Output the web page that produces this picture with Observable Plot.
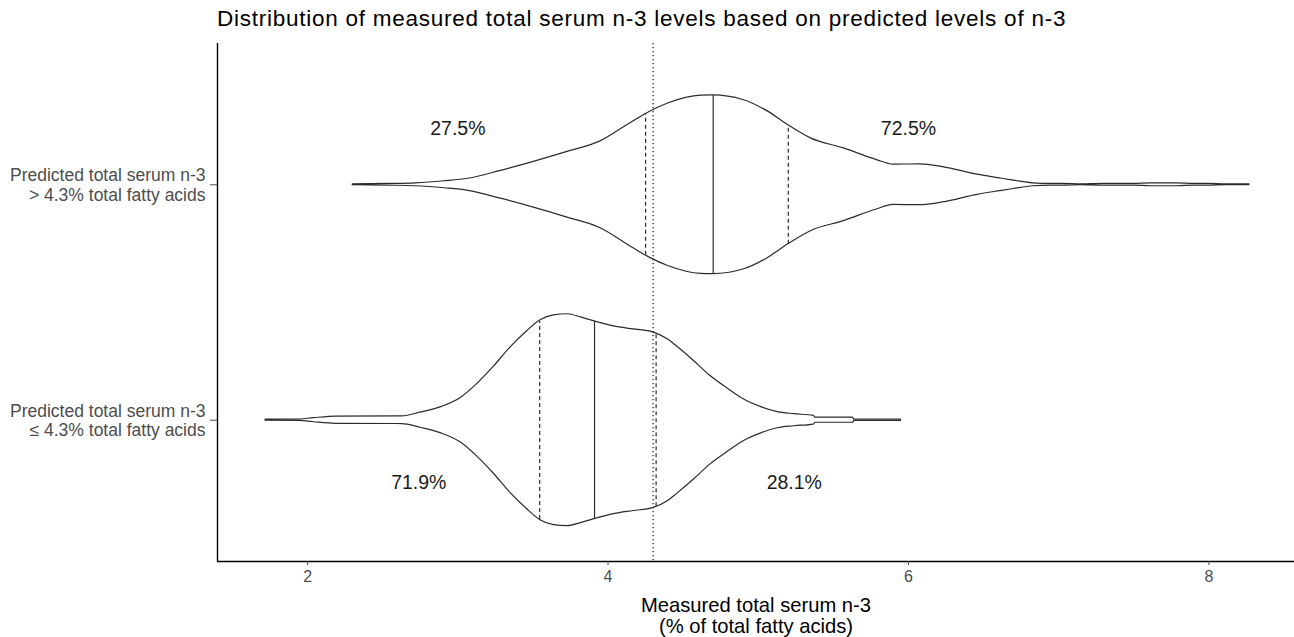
<!DOCTYPE html>
<html><head><meta charset="utf-8">
<script src="https://cdn.jsdelivr.net/npm/d3@7"></script>
<script src="https://cdn.jsdelivr.net/npm/@observablehq/plot@0.6"></script>
<style>
body{margin:0;background:#fff;font-family:"Liberation Sans",Arial,sans-serif;}
#title{position:absolute;left:217px;top:0;height:38px;line-height:38px;font-size:22.5px;letter-spacing:0.75px;color:#000;white-space:nowrap;}
#chart{position:absolute;left:0;top:40px;}
</style></head><body>
<div id="title">Distribution of measured total serum n-3 levels based on predicted levels of n-3</div>
<div id="chart"></div>
<script>
// ---- data ----
const groupNames = ["Predicted total serum n-3\n> 4.3% total fatty acids", "Predicted total serum n-3\n≤ 4.3% total fatty acids"];
const xTicks = [2, 4, 6, 8];
const threshold = 4.3;

// density outline (relative) of the "> 4.3%" group
const highX = [2.30,2.54,2.72,2.91,3.07,3.28,3.50,3.73,3.95,4.17,4.28,4.40,4.62,4.70,4.90,5.06,5.20,5.35,5.57,5.79,5.90,6.08,6.23,6.46,6.61,6.70,6.83,6.95,7.03,7.15,7.30,7.50,7.61,7.79,7.90,8.00,8.11,8.27];
const highDensity = [0.003,0.008,0.014,0.033,0.057,0.129,0.214,0.310,0.410,0.600,0.690,0.767,0.841,0.843,0.800,0.695,0.562,0.438,0.343,0.233,0.190,0.193,0.167,0.095,0.060,0.040,0.014,0.008,0.008,0.003,0.008,0.008,0.014,0.014,0.008,0.008,0.003,0.003];
// density outline (relative) of the "≤ 4.3%" group
const lowX = [1.72,1.95,2.04,2.19,2.63,2.75,2.89,3.02,3.13,3.24,3.35,3.46,3.55,3.64,3.73,3.82,3.91,4.04,4.17,4.30,4.40,4.46,4.57,4.68,4.80,4.90,5.02,5.13,5.24,5.37,5.38,5.63,5.64,5.95];
const lowDensity = [0.005,0.007,0.019,0.034,0.036,0.071,0.124,0.210,0.343,0.505,0.686,0.838,0.943,0.990,1.000,0.971,0.933,0.886,0.857,0.829,0.762,0.695,0.562,0.419,0.295,0.200,0.124,0.076,0.057,0.041,0.024,0.024,0.007,0.007];

// quartiles (25%, median, 75%)
const highQuartiles = [4.25, 4.70, 5.20];
const lowQuartiles = [3.545, 3.91, 4.32];

// percentage annotations
const pctText = ["27.5%", "72.5%", "71.9%", "28.1%"];
const pctX = [3.0, 6.0, 2.74, 5.24];
const pctGroup = [0, 0, 1, 1];
const pctOffset = [0.236, 0.236, -0.265, -0.265];

const xTitle = "Measured total serum n-3\n(% of total fatty acids)";

// ---- build ----
const maxHalf = 0.45;
const pos = i => groupNames.length - i;
const outline = [[highX, highDensity], [lowX, lowDensity]];
const violinRows = [];
outline.forEach(([xs, ds], g) => xs.forEach((x, k) => violinRows.push({g, x, lo: pos(g) - ds[k]*maxHalf, hi: pos(g) + ds[k]*maxHalf})));
function densAt(xs, ds, x) {
  const i = d3.bisectRight(xs, x);
  if (i <= 0) return ds[0];
  if (i >= xs.length) return ds[ds.length-1];
  const t = (x - xs[i-1]) / (xs[i] - xs[i-1]);
  return ds[i-1] + t*(ds[i]-ds[i-1]);
}
const qRows = [];
[highQuartiles, lowQuartiles].forEach((qs, g) => qs.forEach((q, k) => {
  const w = densAt(outline[g][0], outline[g][1], q) * maxHalf;
  qRows.push({x: q, y1: pos(g) - w, y2: pos(g) + w, median: k === 1});
}));
const pctRows = pctText.map((t, i) => ({text: t, x: pctX[i], y: pos(pctGroup[i]) + pctOffset[i]}));

const font = '"Liberation Sans", Arial, sans-serif';
const chart = Plot.plot({
  width: 1294, height: 597,
  marginLeft: 217, marginRight: 0, marginTop: 3, marginBottom: 76,
  x: {domain: [1.4, 8.57], label: null},
  y: {domain: [0.4, 2.6], label: null},
  style: {fontFamily: font, background: "white", overflow: "visible"},
  marks: [
    Plot.areaY(violinRows, {x: "x", y1: "lo", y2: "hi", z: "g", fill: "white", stroke: "#2b2b2b", strokeWidth: 1.2, curve: "monotone-x"}),
    Plot.ruleX(qRows.filter(d => !d.median), {x: "x", y1: "y1", y2: "y2", stroke: "#2b2b2b", strokeWidth: 1.2, strokeDasharray: "4,3"}),
    Plot.ruleX(qRows.filter(d => d.median), {x: "x", y1: "y1", y2: "y2", stroke: "#2b2b2b", strokeWidth: 1.2}),
    Plot.ruleX([threshold], {stroke: "#111", strokeWidth: 1.2, strokeDasharray: "1.3,2.7"}),
    Plot.ruleX([1.4], {stroke: "#000", strokeWidth: 1.4}),
    Plot.ruleY([0.4], {stroke: "#000", strokeWidth: 1.4}),
    Plot.axisX({ticks: xTicks, tickSize: 4, tickPadding: 5, fontSize: 16, color: "#4d4d4d", label: null}),
    Plot.axisY({ticks: groupNames.map((_, i) => pos(i)), tickFormat: v => groupNames[groupNames.length - v], tickSize: 7, tickPadding: 5, fontSize: 17.5, lineHeight: 1.1, color: "#4d4d4d", label: null}),
    Plot.text(pctRows, {x: "x", y: "y", text: "text", fontSize: 19.5, fill: "#1a1a1a"}),
    Plot.text([xTitle], {x: (1.4 + 8.57) / 2, y: 0.4, dy: 54.5, text: d => d, fontSize: 20.2, lineHeight: 1.05, fill: "#000"})
  ]
});
document.getElementById("chart").appendChild(chart);
</script>
</body></html>
